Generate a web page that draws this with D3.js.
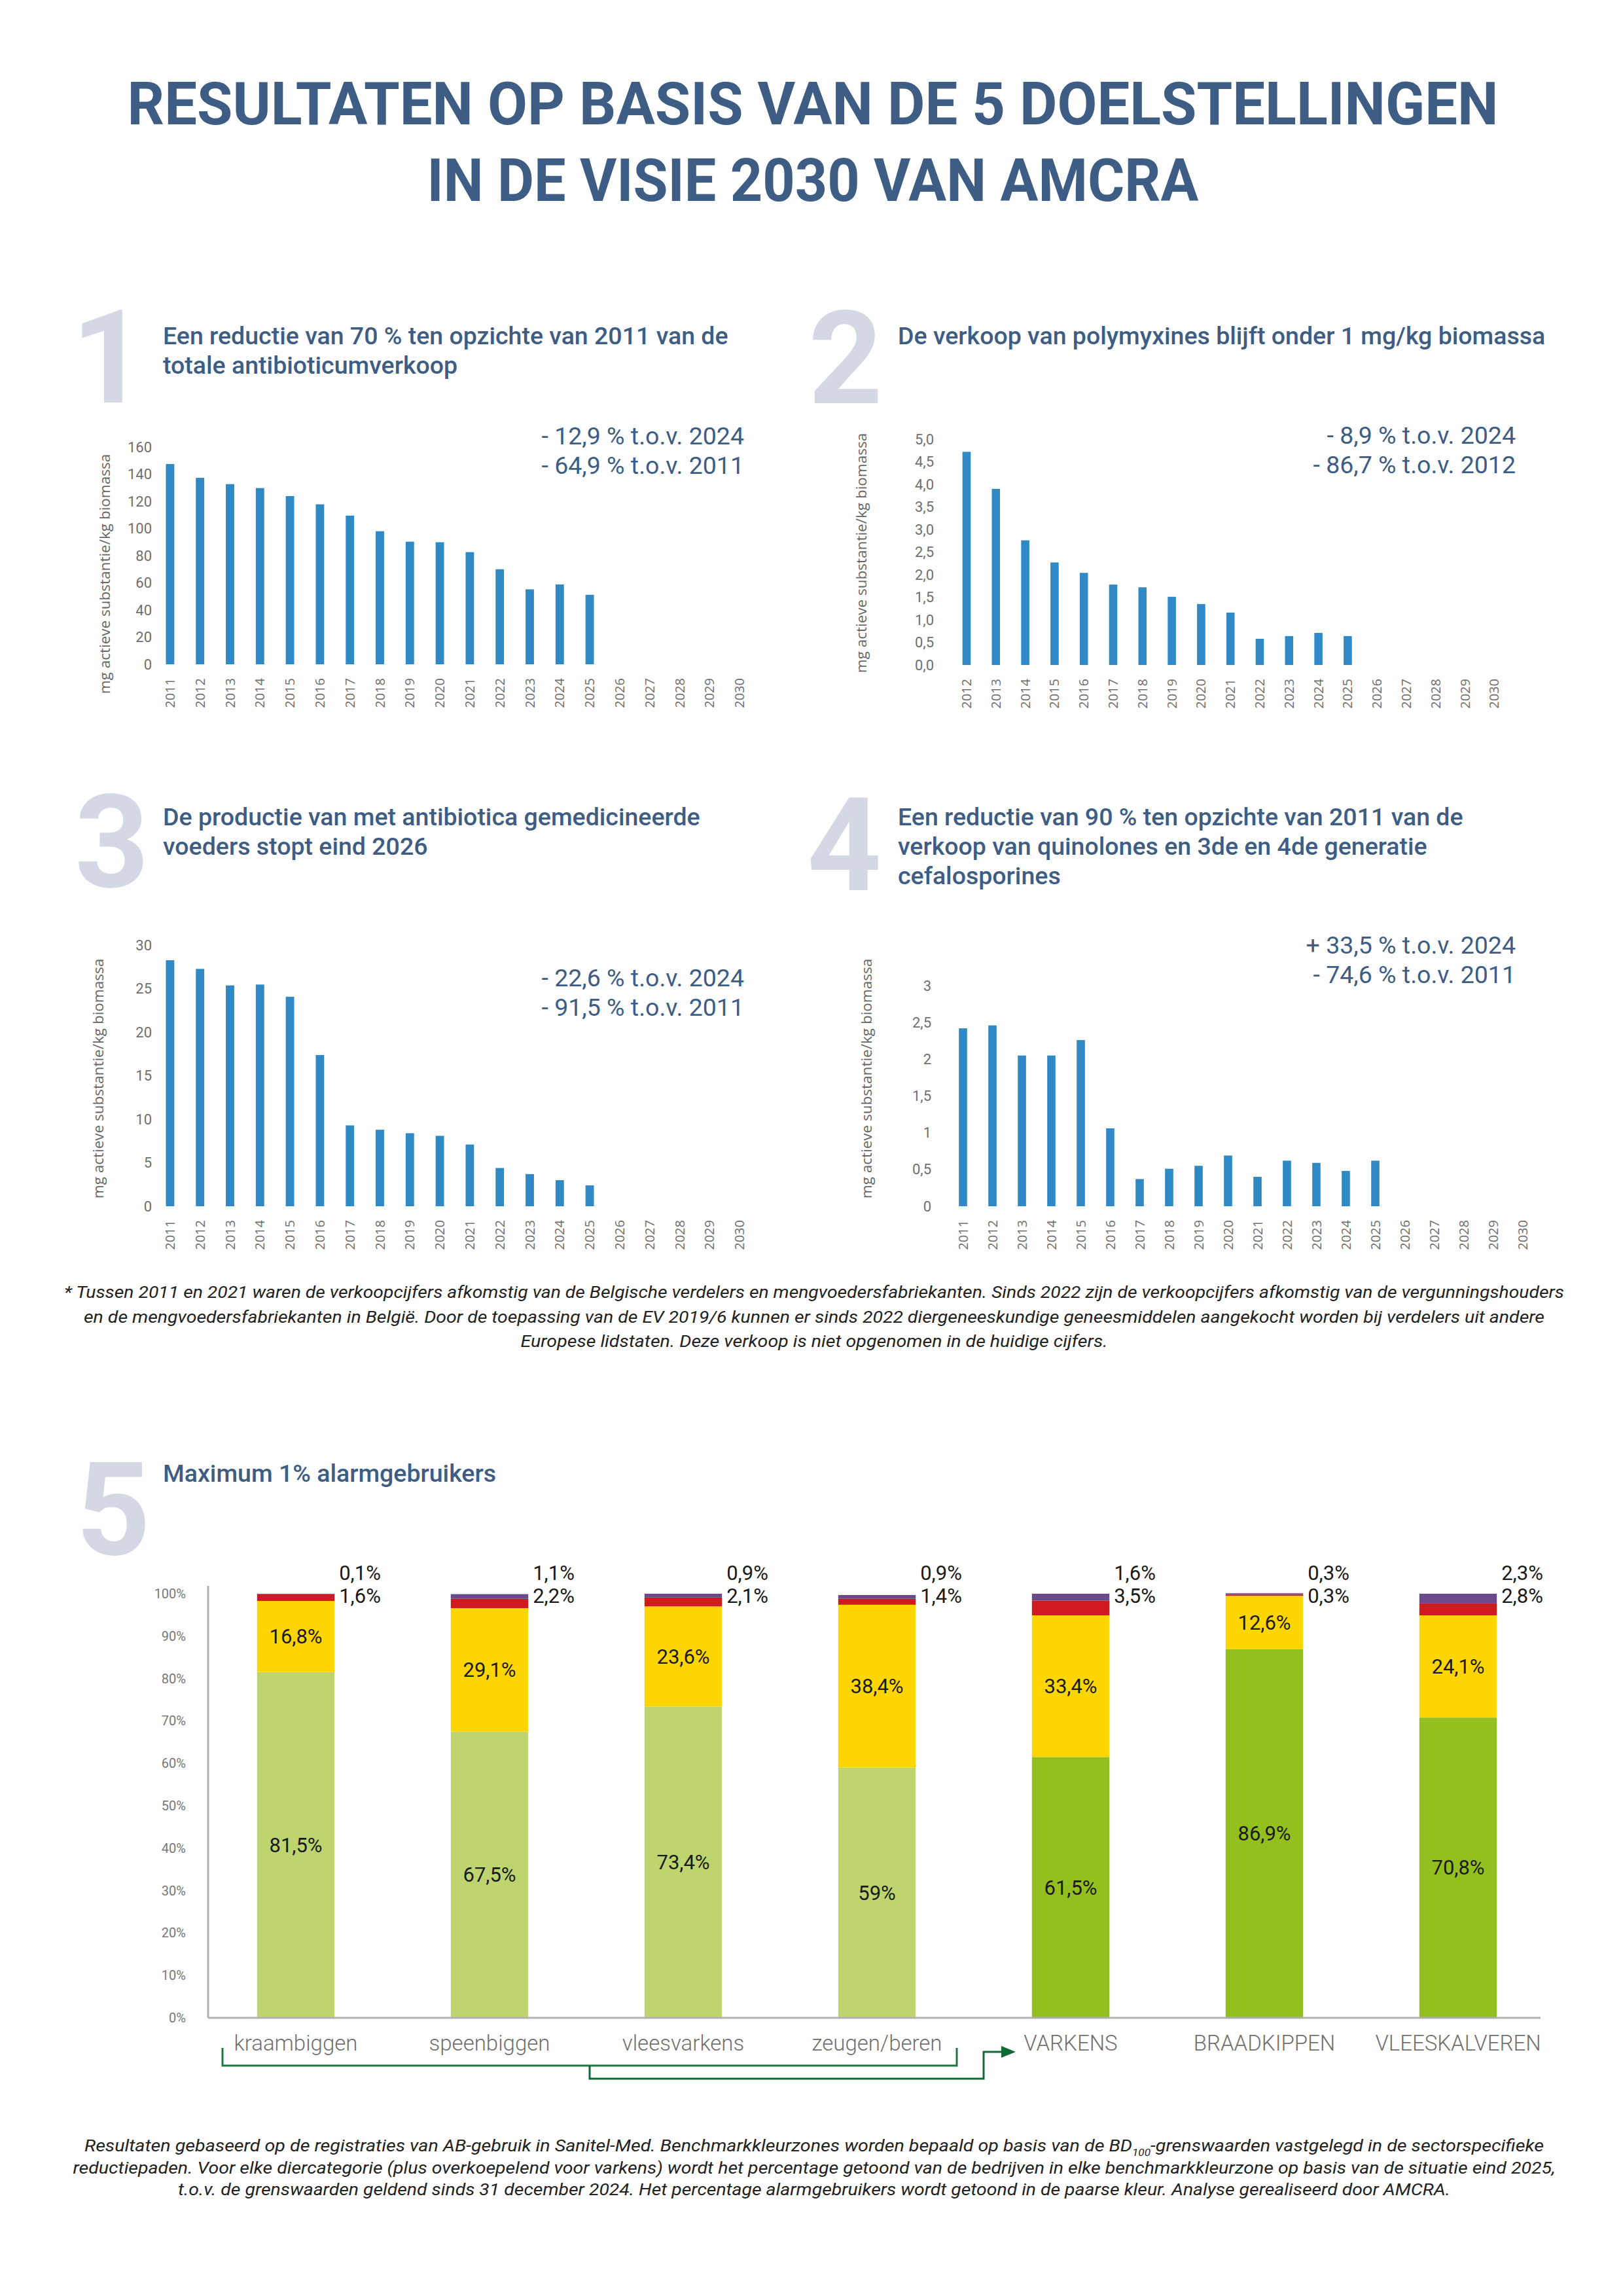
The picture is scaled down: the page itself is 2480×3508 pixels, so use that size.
<!DOCTYPE html>
<html lang="nl">
<head>
<meta charset="utf-8">
<title>Resultaten visie 2030 AMCRA</title>
<script src="https://cdn.jsdelivr.net/npm/d3@7"></script>
<style>
  body { margin: 0; background: #fff; }
  svg { display: block; font-family: Roboto, "Open Sans", sans-serif; }
</style>
</head>
<body>
<svg id="poster" width="2480" height="3508"></svg>
<script>
// jaren op de x-as
var years = ["2011", "2012", "2013", "2014", "2015", "2016", "2017", "2018", "2019", "2020",
             "2021", "2022", "2023", "2024", "2025", "2026", "2027", "2028", "2029", "2030"];
var yearsFrom2012 = ["2012", "2013", "2014", "2015", "2016", "2017", "2018", "2019", "2020",
             "2021", "2022", "2023", "2024", "2025", "2026", "2027", "2028", "2029", "2030"];

// 1. totale antibioticumverkoop (mg/kg biomassa), 2011-2025
var totaal = [147.5, 137.3, 132.7, 129.8, 123.9, 117.8, 109.5, 98.0, 90.3, 89.9, 82.6, 70.0, 55.2, 58.8, 51.2];
var totaalTicks = [0, 20, 40, 60, 80, 100, 120, 140, 160];
var totaalDelta = ["- 12,9 % t.o.v. 2024", "- 64,9 % t.o.v. 2011"];

// 2. polymyxines, 2012-2025
var polymyxines = [4.72, 3.90, 2.76, 2.27, 2.04, 1.78, 1.72, 1.51, 1.35, 1.16, 0.58, 0.64, 0.71, 0.64];
var polyTicks = [0, 0.5, 1, 1.5, 2, 2.5, 3, 3.5, 4, 4.5, 5];
var polyDelta = ["- 8,9 % t.o.v. 2024", "- 86,7 % t.o.v. 2012"];

// 3. gemedicineerde voeders, 2011-2025
var voeders = [28.3, 27.3, 25.4, 25.5, 24.1, 17.4, 9.3, 8.8, 8.4, 8.1, 7.1, 4.4, 3.7, 3.0, 2.4];
var voederTicks = [0, 5, 10, 15, 20, 25, 30];
var voederDelta = ["- 22,6 % t.o.v. 2024", "- 91,5 % t.o.v. 2011"];

// 4. quinolones en 3de/4de generatie cefalosporines, 2011-2025
var kritisch = [2.42, 2.46, 2.05, 2.05, 2.26, 1.06, 0.37, 0.51, 0.55, 0.69, 0.40, 0.62, 0.59, 0.48, 0.62];
var kritischTicks = [0, 0.5, 1, 1.5, 2, 2.5, 3];
var kritischDelta = ["+ 33,5 % t.o.v. 2024", "- 74,6 % t.o.v. 2011"];

// 5. benchmarkkleurzones per diercategorie (% bedrijven)
var categorieen = ["kraambiggen", "speenbiggen", "vleesvarkens", "zeugen/beren", "VARKENS", "BRAADKIPPEN", "VLEESKALVEREN"];
var varkensDeelgroepen = ["kraambiggen", "speenbiggen", "vleesvarkens", "zeugen/beren"];
var groen = [81.5, 67.5, 73.4, 59, 61.5, 86.9, 70.8];
var geel = [16.8, 29.1, 23.6, 38.4, 33.4, 12.6, 24.1];
var rood = [1.6, 2.2, 2.1, 1.4, 3.5, 0.3, 2.8];
var paars = [0.1, 1.1, 0.9, 0.9, 1.6, 0.3, 2.3];
var pctTicks = [0, 10, 20, 30, 40, 50, 60, 70, 80, 90, 100];

var navy = "#3d5d85",
    bigNr = "#d4d8e5",
    barBlue = "#2f89c4",
    grey = "#6f6f6f";

var nl = d3.formatLocale({decimal: ",", thousands: ".", grouping: [3], currency: ["€", ""]});

var svg = d3.select("#poster");

// hoofdtitel
svg.append("text")
    .attr("x", 1242).attr("y", 190)
    .attr("text-anchor", "middle")
    .attr("font-size", 90).attr("font-weight", 700).attr("fill", navy)
    .attr("textLength", 2095).attr("lengthAdjust", "spacingAndGlyphs")
    .text("RESULTATEN OP BASIS VAN DE 5 DOELSTELLINGEN");
svg.append("text")
    .attr("x", 1242).attr("y", 307)
    .attr("text-anchor", "middle")
    .attr("font-size", 90).attr("font-weight", 700).attr("fill", navy)
    .attr("textLength", 1179).attr("lengthAdjust", "spacingAndGlyphs")
    .text("IN DE VISIE 2030 VAN AMCRA");

function heading(nr, nrX, nrY, lines, x, y) {
  svg.append("text")
      .attr("x", nrX).attr("y", nrY)
      .attr("text-anchor", "middle")
      .attr("font-size", 198).attr("font-weight", 700).attr("fill", bigNr)
      .text(nr);
  svg.append("g").selectAll("text")
    .data(lines)
    .join("text")
      .attr("x", x)
      .attr("y", function(d, i) { return y + i * 45; })
      .attr("font-size", 37.5).attr("font-weight", 500).attr("fill", navy)
      .text(function(d) { return d; });
}

function yearChart(o) {
  var x = d3.scaleBand()
      .domain(o.years)
      .range([o.x0, o.x1])
      .paddingInner(0.72)
      .paddingOuter(0.36);
  var y = d3.scaleLinear()
      .domain([0, o.max])
      .range([o.y0, o.y1]);

  var g = svg.append("g");

  g.selectAll("rect")
    .data(o.values)
    .join("rect")
      .attr("x", function(d, i) { return x(o.years[i]); })
      .attr("y", function(d) { return y(d); })
      .attr("width", x.bandwidth())
      .attr("height", function(d) { return y(0) - y(d); })
      .attr("fill", barBlue);

  // y-as zonder lijn
  g.append("g")
      .attr("transform", "translate(" + o.tickX + ",0)")
      .call(d3.axisLeft(y).tickValues(o.ticks).tickFormat(o.fmt).tickSize(0).tickPadding(0))
      .call(function(a) { a.select(".domain").remove(); })
    .selectAll("text")
      .attr("font-family", "Roboto").attr("font-size", 22).attr("fill", grey);

  // x-as: jaartallen verticaal
  g.append("g")
      .attr("transform", "translate(0," + o.y0 + ")")
      .call(d3.axisBottom(x).tickSize(0))
      .call(function(a) { a.select(".domain").remove(); })
    .selectAll("text")
      .attr("transform", "rotate(-90)")
      .attr("x", -21).attr("y", 0).attr("dy", "0.35em")
      .attr("text-anchor", "end")
      .attr("font-family", "'Open Sans'").attr("font-size", 20).attr("fill", grey);

  g.append("text")
      .attr("transform", "translate(" + o.titleX + "," + o.titleY + ")rotate(-90)")
      .attr("text-anchor", "middle").attr("dy", "0.35em")
      .attr("font-family", "'Open Sans'").attr("font-size", 22.5).attr("fill", "#666")
      .text("mg actieve substantie/kg biomassa");

  g.selectAll(".delta")
    .data(o.delta)
    .join("text")
      .attr("class", "delta")
      .attr("x", o.deltaX)
      .attr("y", function(d, i) { return o.deltaY + i * 45; })
      .attr("text-anchor", "end")
      .attr("font-size", 37.5).attr("fill", navy)
      .text(function(d) { return d; });
}

heading("1", 166, 615, ["Een reductie van 70 % ten opzichte van 2011 van de", "totale antibioticumverkoop"], 249, 526);
yearChart({years: years, values: totaal, max: 160, ticks: totaalTicks, fmt: nl.format("d"),
  x0: 237, x1: 1153, y0: 1015, y1: 683, tickX: 232, titleX: 160, titleY: 877,
  delta: totaalDelta, deltaX: 1137, deltaY: 679});

heading("2", 1292, 616, ["De verkoop van polymyxines blijft onder 1 mg/kg biomassa"], 1372, 526);
yearChart({years: yearsFrom2012, values: polymyxines, max: 5, ticks: polyTicks, fmt: nl.format(".1f"),
  x0: 1454.6, x1: 2305.8, y0: 1016, y1: 671, tickX: 1427, titleX: 1316, titleY: 845,
  delta: polyDelta, deltaX: 2316, deltaY: 678});

heading("3", 171, 1355, ["De productie van met antibiotica gemedicineerde", "voeders stopt eind 2026"], 249, 1261);
yearChart({years: years, values: voeders, max: 30, ticks: voederTicks, fmt: nl.format("d"),
  x0: 237, x1: 1153, y0: 1843, y1: 1444.5, tickX: 232, titleX: 150, titleY: 1648,
  delta: voederDelta, deltaX: 1137, deltaY: 1507});

heading("4", 1290, 1360, ["Een reductie van 90 % ten opzichte van 2011 van de",
  "verkoop van quinolones en 3de en 4de generatie", "cefalosporines"], 1372, 1261);
yearChart({years: years, values: kritisch, max: 3, ticks: kritischTicks, fmt: nl.format(".1~f"),
  x0: 1449, x1: 2349, y0: 1843, y1: 1506, tickX: 1423, titleX: 1324, titleY: 1648,
  delta: kritischDelta, deltaX: 2316, deltaY: 1456.5});

// voetnoot bij grafieken 1-4 (regelbreedtes zoals in het origineel)
var noot1 = [
  "* Tussen 2011 en 2021 waren de verkoopcijfers afkomstig van de Belgische verdelers en mengvoedersfabriekanten. Sinds 2022 zijn de verkoopcijfers afkomstig van de vergunningshouders",
  "en de mengvoedersfabriekanten in België. Door de toepassing van de EV 2019/6 kunnen er sinds 2022 diergeneeskundige geneesmiddelen aangekocht worden bij verdelers uit andere",
  "Europese lidstaten. Deze verkoop is niet opgenomen in de huidige cijfers."
];
var noot1Breedte = [2292, 2232, 897];
svg.append("g").selectAll("text")
  .data(noot1)
  .join("text")
    .attr("x", 1244)
    .attr("y", function(d, i) { return 1983 + i * 37.5; })
    .attr("text-anchor", "middle")
    .attr("font-size", 25).attr("font-style", "italic").attr("fill", "#222")
    .attr("textLength", function(d, i) { return noot1Breedte[i]; })
    .attr("lengthAdjust", "spacingAndGlyphs")
    .text(function(d) { return d; });

// 5. alarmgebruikers
heading("5", 173, 2375, ["Maximum 1% alarmgebruikers"], 249, 2264);

var rows = categorieen.map(function(c, i) {
  return {cat: c, groen: groen[i], geel: geel[i], rood: rood[i], paars: paars[i]};
});
var keys = ["groen", "geel", "rood", "paars"];
var series = d3.stack().keys(keys)(rows);

var x5 = d3.scaleBand()
    .domain(categorieen)
    .range([304, 2376])
    .paddingInner(0.6)
    .paddingOuter(0.3);
var y5 = d3.scaleLinear()
    .domain([0, 100])
    .range([3083, 2435]);

var zoneColor = {geel: "#ffd500", rood: "#d01a1f", paars: "#6b4a8b"};
function fill(key, cat) {
  if (key === "groen") return varkensDeelgroepen.indexOf(cat) >= 0 ? "#bdd46f" : "#93c01f";
  return zoneColor[key];
}

var g5 = svg.append("g");

g5.selectAll("g.serie")
  .data(series)
  .join("g")
    .attr("class", "serie")
  .selectAll("rect")
  .data(function(s) { return s.map(function(d) { d.key = s.key; return d; }); })
  .join("rect")
    .attr("x", function(d) { return x5(d.data.cat); })
    .attr("y", function(d) { return y5(d[1]); })
    .attr("width", x5.bandwidth())
    .attr("height", function(d) { return y5(d[0]) - y5(d[1]); })
    .attr("fill", function(d) { return fill(d.key, d.data.cat); });

function pct(v) { return nl.format("~")(v) + "%"; }

// labels in groen en geel segment
series.slice(0, 2).forEach(function(s) {
  g5.append("g").selectAll("text")
    .data(s)
    .join("text")
      .attr("x", function(d) { return x5(d.data.cat) + x5.bandwidth() / 2; })
      .attr("y", function(d) { return y5((d[0] + d[1]) / 2); })
      .attr("dy", "0.35em")
      .attr("text-anchor", "middle")
      .attr("font-size", 31).attr("fill", "#1a1a1a")
      .text(function(d) { return pct(d.data[s.key]); });
});

// rood en paars naast de staaf
g5.append("g").selectAll("text")
  .data(rows)
  .join("text")
    .attr("x", function(d) { return x5(d.cat) + x5.bandwidth() + 7; })
    .attr("y", y5(100) + 14)
    .attr("font-size", 31).attr("fill", "#1a1a1a")
    .text(function(d) { return pct(d.rood); });
g5.append("g").selectAll("text")
  .data(rows)
  .join("text")
    .attr("x", function(d) { return x5(d.cat) + x5.bandwidth() + 7; })
    .attr("y", y5(100) - 21)
    .attr("font-size", 31).attr("fill", "#1a1a1a")
    .text(function(d) { return pct(d.paars); });

// assen
g5.append("line")
    .attr("x1", 318).attr("x2", 318)
    .attr("y1", y5(100) - 12).attr("y2", y5(0))
    .attr("stroke", "#b0b0b0").attr("stroke-width", 3);
g5.append("line")
    .attr("x1", 318).attr("x2", 2354)
    .attr("y1", y5(0)).attr("y2", y5(0))
    .attr("stroke", "#b0b0b0").attr("stroke-width", 3);

g5.append("g")
    .attr("transform", "translate(284,0)")
    .call(d3.axisLeft(y5).tickValues(pctTicks).tickFormat(function(d) { return d + "%"; }).tickSize(0).tickPadding(0))
    .call(function(a) { a.select(".domain").remove(); })
  .selectAll("text")
    .attr("font-family", "Roboto").attr("font-size", 20).attr("fill", "#777");

g5.append("g").selectAll("text")
  .data(categorieen)
  .join("text")
    .attr("x", function(d) { return x5(d) + x5.bandwidth() / 2; })
    .attr("y", 3133)
    .attr("text-anchor", "middle")
    .attr("font-size", 33).attr("font-weight", 300).attr("fill", "#707070")
    .text(function(d) { return d; });

// haak: deelgroepen varkens -> VARKENS
var left = x5("kraambiggen") + x5.bandwidth() / 2 - 112,
    right = x5("zeugen/beren") + x5.bandwidth() / 2 + 122,
    mid = (left + right) / 2,
    tip = x5("VARKENS") + x5.bandwidth() / 2 - 84;

g5.append("path")
    .attr("d", "M" + left + ",3129V3156H" + right + "V3129")
    .attr("fill", "none").attr("stroke", "#1d7a3e").attr("stroke-width", 3);
g5.append("path")
    .attr("d", "M" + mid + ",3156V3176H" + (tip - 49) + "V3135H" + (tip - 20))
    .attr("fill", "none").attr("stroke", "#0f6a35").attr("stroke-width", 3);
g5.append("path")
    .attr("d", "M" + (tip - 22) + ",3126L" + tip + ",3135L" + (tip - 22) + ",3144Z")
    .attr("fill", "#0f6a35");

// voetnoot onderaan
var noot2 = svg.append("g")
    .attr("font-size", 25).attr("font-style", "italic").attr("fill", "#222")
    .attr("text-anchor", "middle");
var n1 = noot2.append("text").attr("x", 1244).attr("y", 3287)
    .attr("textLength", 2230).attr("lengthAdjust", "spacingAndGlyphs");
n1.append("tspan").text("Resultaten gebaseerd op de registraties van AB-gebruik in Sanitel-Med. Benchmarkkleurzones worden bepaald op basis van de BD");
n1.append("tspan").attr("font-size", 15).attr("dy", 7).text("100");
n1.append("tspan").attr("dy", -7).text("-grenswaarden vastgelegd in de sectorspecifieke");
noot2.append("text").attr("x", 1244).attr("y", 3321)
    .attr("textLength", 2265).attr("lengthAdjust", "spacingAndGlyphs")
    .text("reductiepaden. Voor elke diercategorie (plus overkoepelend voor varkens) wordt het percentage getoond van de bedrijven in elke benchmarkkleurzone op basis van de situatie eind 2025,");
noot2.append("text").attr("x", 1244).attr("y", 3354)
    .attr("textLength", 1944).attr("lengthAdjust", "spacingAndGlyphs")
    .text("t.o.v. de grenswaarden geldend sinds 31 december 2024. Het percentage alarmgebruikers wordt getoond in de paarse kleur. Analyse gerealiseerd door AMCRA.");
</script>
</body>
</html>
